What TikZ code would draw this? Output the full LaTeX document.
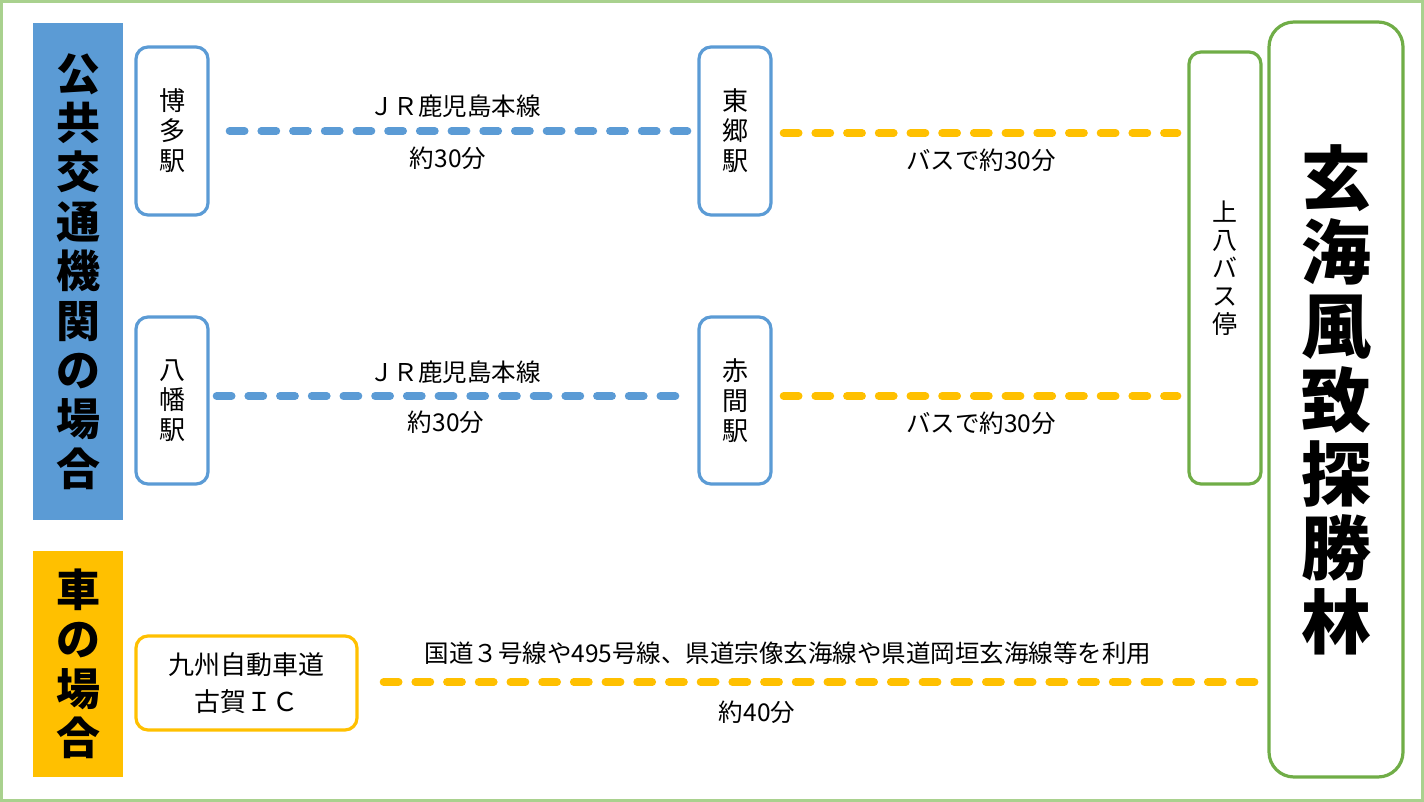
\documentclass[tikz,border=0pt]{standalone}
\usepackage{fontspec}
\newfontfamily\jp{Noto Sans CJK JP}
\usetikzlibrary{calc}
\definecolor{cblue}{HTML}{5B9BD5}
\definecolor{cyellow}{HTML}{FFC000}
\definecolor{cgreen}{HTML}{70AD47}
\definecolor{cborder}{HTML}{A9D18E}
\tikzset{
  x=1pt, y=-1pt,
  station/.style={draw=#1, line width=3.2pt, rounded corners=12pt, fill=white, inner sep=0pt, align=center,
    font={\jp\fontsize{26}{30}\selectfont}},
  header/.style={fill=#1, inner sep=0pt, align=center, font={\jp\bfseries\fontsize{44}{49.4}\selectfont}},
  route/.style={draw=#1, line width=7.8pt, line cap=round, dash pattern=on 15pt off 16.7pt},
  lbl/.style={font={\jp\fontsize{24.5}{28}\selectfont}, inner sep=0pt},
}
\begin{document}
\begin{tikzpicture}
\useasboundingbox (0,0) rectangle (1424,802);
\draw[cborder, line width=3pt] (1.5,1.5) rectangle (1422.5,800.5);
% headers
\node[header=cblue, minimum width=90pt, minimum height=497pt] (pub) at (78,271.5) {公\\共\\交\\通\\機\\関\\の\\場\\合};
\node[header=cyellow, minimum width=90pt, minimum height=226pt] (car) at (78,664) {車\\の\\場\\合};
% stations
\node[station=cblue, minimum width=72pt, minimum height=168pt] (hakata) at (172,131) {博\\多\\駅};
\node[station=cblue, minimum width=72pt, minimum height=168pt] (togo) at (735,131) {東\\郷\\駅};
\node[station=cblue, minimum width=72pt, minimum height=167pt] (yahata) at (172,400.5) {八\\幡\\駅};
\node[station=cblue, minimum width=72pt, minimum height=167pt] (akama) at (735,400.5) {赤\\間\\駅};
\node[station=cgreen, minimum width=72pt, minimum height=432pt, font={\jp\fontsize{25}{28}\selectfont}] (kami) at (1225,268) {上\\八\\バ\\ス\\停};
\node[station=cgreen, rounded corners=25pt, minimum width=134pt, minimum height=755pt, font={\jp\bfseries\fontsize{70}{74}\selectfont}] (goal) at (1336,399.5) {玄\\海\\風\\致\\探\\勝\\林};
\node[station=cyellow, minimum width=221pt, minimum height=94pt, font={\jp\fontsize{26}{37}\selectfont}] (ic) at (246.5,683) {九州自動車道\\古賀ＩＣ};
% routes
\draw[route=cblue, shorten <=20pt, shorten >=10pt] (hakata.east) -- (togo.west);
\draw[route=cyellow, shorten <=11pt, shorten >=10pt] ([yshift=-2]togo.east) -- ([yshift=-2]togo.east -| kami.west);
\draw[route=cblue, shorten <=7pt, shorten >=22pt] ([yshift=4.5]yahata.east) -- ([yshift=4.5]akama.west);
\draw[route=cyellow, shorten <=11pt, shorten >=10pt] ([yshift=4.5]akama.east) -- ([yshift=4.5]akama.east -| kami.west);
\draw[route=cyellow, shorten <=25pt, shorten >=11pt] ([yshift=1]ic.east) -- ([yshift=1]ic.east -| goal.west);
% labels
\node[lbl] (l1) at (455,106) {ＪＲ鹿児島本線};
\node[lbl] (l2) at (448,158) {約30分};
\node[lbl] (l3) at (455,372) {ＪＲ鹿児島本線};
\node[lbl] (l4) at (446,422) {約30分};
\node[lbl] (l5) at (981,160) {バスで約30分};
\node[lbl] (l6) at (981,423) {バスで約30分};
\node[lbl] (l7) at (788,653) {国道３号線や495号線、県道宗像玄海線や県道岡垣玄海線等を利用};
\node[lbl] (l8) at (757,712) {約40分};
\end{tikzpicture}
\end{document}
